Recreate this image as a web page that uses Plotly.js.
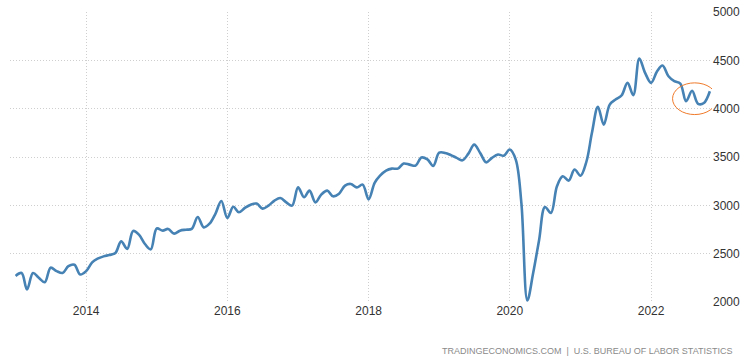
<!DOCTYPE html>
<html>
<head>
<meta charset="utf-8">
<script src="https://cdn.plot.ly/plotly-3.0.1.min.js"></script>
<style>html,body{margin:0;padding:0;background:#fff;}#chart{width:754px;height:360px;}</style>
</head>
<body>
<div id="chart"></div>
<script>
// US job quits (thousands), monthly, Jan 2013 - Nov 2022
const startYear = 2013;
const quits2013 = [2270, 2300, 2130, 2300, 2250, 2205, 2355, 2320, 2300, 2370, 2385, 2285];
const quits2014 = [2320, 2410, 2448, 2472, 2486, 2507, 2627, 2549, 2735, 2697, 2600, 2545];
const quits2015 = [2760, 2738, 2756, 2707, 2738, 2748, 2756, 2880, 2772, 2810, 2915, 3045];
const quits2016 = [2870, 2985, 2928, 2973, 3007, 3018, 2966, 2997, 3049, 3076, 3031, 2997];
const quits2017 = [3186, 3083, 3152, 3031, 3111, 3152, 3093, 3121, 3204, 3221, 3186, 3214];
const quits2018 = [3062, 3232, 3307, 3359, 3380, 3380, 3432, 3421, 3411, 3495, 3475, 3408];
const quits2019 = [3545, 3542, 3521, 3491, 3466, 3535, 3628, 3542, 3445, 3491, 3525, 3514];
const quits2020 = [3577, 3473, 3025, 2017, 2300, 2645, 2983, 2921, 3197, 3300, 3256, 3370];
const quits2021 = [3307, 3456, 3750, 4019, 3835, 4042, 4094, 4136, 4267, 4140, 4519, 4370];
const quits2022 = [4267, 4387, 4446, 4335, 4284, 4260, 4077, 4185, 4050, 4058, 4180];

const yTickVals = [2000, 2500, 3000, 3500, 4000, 4500, 5000];
const xTickYears = ['2014', '2016', '2018', '2020', '2022'];
const sourceText = 'TRADINGECONOMICS.COM  |  U.S. BUREAU OF LABOR STATISTICS';

const values = [].concat(quits2013, quits2014, quits2015, quits2016, quits2017,
                         quits2018, quits2019, quits2020, quits2021, quits2022);
const dates = values.map((v, i) => {
  const y = startYear + Math.floor(i / 12);
  const m = (i % 12) + 1;
  return y + '-' + String(m).padStart(2, '0') + '-01';
});

const trace = {
  x: dates, y: values, type: 'scatter', mode: 'lines',
  line: {color: '#4682b4', width: 2.6, shape: 'spline', smoothing: 1},
  hoverinfo: 'x+y'
};

const gridStyle = {showgrid: true, gridcolor: '#cfcfcf', griddash: '1px,2px', gridwidth: 1,
                   zeroline: false, showline: false, ticks: ''};

const layout = {
  width: 754, height: 360,
  margin: {l: 10, r: 42, t: 12, b: 58},
  paper_bgcolor: '#ffffff', plot_bgcolor: '#ffffff',
  showlegend: false,
  font: {family: 'Liberation Sans, Arial, sans-serif', size: 12, color: '#333'},
  xaxis: Object.assign({
    type: 'date',
    range: ['2012-12-03', '2022-11-12'],
    tickvals: xTickYears.map(y => y + '-01-01'),
    ticktext: xTickYears,
    tickfont: {size: 12, color: '#333'}
  }, gridStyle),
  yaxis: Object.assign({
    side: 'right',
    range: [2000, 5000],
    tickvals: yTickVals,
    ticktext: yTickVals.map(String),
    tickfont: {size: 12, color: '#333'}
  }, gridStyle),
  shapes: [{
    type: 'circle', xref: 'x', yref: 'y',
    x0: '2022-04-22', x1: '2022-12-07', y0: 3939, y1: 4267,
    line: {color: '#f07a2a', width: 1}
  }],
  annotations: [{
    xref: 'paper', yref: 'paper', x: 1.033, y: -0.17,
    xanchor: 'right', yanchor: 'middle', showarrow: false,
    text: sourceText,
    font: {family: 'Liberation Sans, Arial, sans-serif', size: 9, color: '#8a8a8a'}
  }]
};

Plotly.newPlot('chart', [trace], layout, {displayModeBar: false, staticPlot: true});
</script>
</body>
</html>
